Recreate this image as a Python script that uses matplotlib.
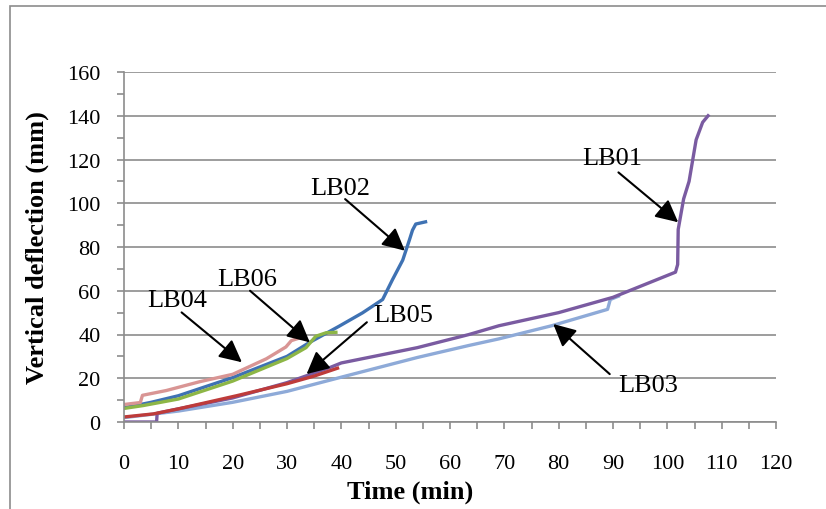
import matplotlib
matplotlib.use("Agg")
import matplotlib.pyplot as plt
from matplotlib.patches import Rectangle
from matplotlib.ticker import MultipleLocator

plt.rcParams['font.family'] = ['Liberation Serif', 'DejaVu Serif']

# deflection curves, time (min) vs vertical deflection (mm)
lb01_t = [0, 6, 6.1, 10, 20, 30, 38, 40, 54, 63.5, 69, 80, 90, 101.5, 101.9, 102.0, 103, 104, 105.3, 106.5, 107.5]
lb01_v = [0, 0, 4, 6, 11, 18, 25, 27, 34, 40, 44, 50, 57, 68.5, 72, 88, 102, 110, 129, 137, 140]

lb03_t = [0, 10, 20, 30, 40, 54, 63.5, 69, 78.7, 89, 89.5, 91]
lb03_v = [2, 5, 9, 14, 20.5, 29.5, 35, 38, 44, 51.5, 56, 57.5]

lb02_t = [0, 5, 10, 20, 30, 34.1, 39.6, 43.9, 47.6, 49.4, 51.3, 52.5, 53.1, 53.7, 55.5]
lb02_v = [6.5, 9, 12, 20.3, 30, 36.3, 43.8, 49.9, 56, 65, 74, 83, 87.7, 90.5, 91.5]

lb04_t = [0, 3, 3.4, 7.8, 13.9, 20, 26.2, 29.8, 30.8, 32.3]
lb04_v = [8, 8.9, 12.2, 14.4, 18.4, 21.8, 28.9, 34.3, 37.2, 38.4]

lb06_t = [0, 3.5, 10, 20, 30, 33.5, 35.3, 37.2, 39]
lb06_v = [6.2, 7.5, 10.5, 18.7, 29, 34, 39.2, 40.8, 41]

lb05_t = [0, 5.4, 10, 20.7, 30, 35, 39.3]
lb05_v = [2.3, 3.7, 6, 12, 17.5, 21, 24.6]

# label text position, arrow tail, arrow head (data coords)
labels = ['LB01', 'LB02', 'LB03', 'LB04', 'LB05', 'LB06']
label_xy = [(89.8, 120.7), (39.8, 107), (96.4, 16.9), (9.75, 55.8), (51.4, 48.9), (22.7, 65.4)]
arrow_tail = [(91.0, 114.1), (40.7, 101.9), (89.4, 21.9), (10.6, 50.1), (44.7, 45.6), (23.2, 60.0)]
arrow_head = [(102.0, 91.3), (51.7, 78.3), (79.0, 44.8), (21.7, 27.3), (33.6, 21.9), (34.2, 36.4)]

fig = plt.figure(figsize=(8.26, 5.10), dpi=100)
ax = fig.add_axes([124 / 826, 1 - 423 / 510, 652 / 826, 350 / 510])

# outer chart frame
fig.patches.append(Rectangle((9.5 / 826, -0.2), 1.2, 1.2 - 7 / 510, transform=fig.transFigure,
                             fill=False, edgecolor='#8c8c8c', lw=1.2))

ax.plot(lb03_t, lb03_v, color='#8eaad8', lw=2.4)
ax.plot(lb01_t, lb01_v, color='#7a5ba1', lw=2.4)
ax.plot(lb02_t, lb02_v, color='#3f72b3', lw=2.4)
ax.plot(lb04_t, lb04_v, color='#d99594', lw=2.4)
ax.plot(lb06_t, lb06_v, color='#8db646', lw=2.4)
ax.plot(lb05_t, lb05_v, color='#be3b3a', lw=2.4)

for name, txy, tail, head in zip(labels, label_xy, arrow_tail, arrow_head):
    ax.annotate('', xy=head, xytext=tail,
                arrowprops=dict(arrowstyle='-|>', color='black', lw=1.5,
                                mutation_scale=34, shrinkA=0, shrinkB=0))
    ax.text(txy[0], txy[1], name, ha='center', va='center', fontsize=19)

ax.set_xlim(0, 120)
ax.set_ylim(0, 160)
ax.xaxis.set_major_locator(MultipleLocator(10))
ax.xaxis.set_minor_locator(MultipleLocator(5))
ax.yaxis.set_major_locator(MultipleLocator(20))
ax.yaxis.set_minor_locator(MultipleLocator(10))
ax.grid(True, axis='y', which='major', color='#8c8c8c', lw=1.2)
ax.set_axisbelow(True)

for s in ['top', 'right']:
    ax.spines[s].set_visible(False)
for s in ['left', 'bottom']:
    ax.spines[s].set_color('#8c8c8c')
    ax.spines[s].set_linewidth(1.2)

ax.tick_params(axis='x', which='both', direction='out', length=5, color='#8c8c8c', width=1.2, pad=18, labelsize=16)
ax.tick_params(axis='y', which='both', direction='out', length=5, color='#8c8c8c', width=1.2, pad=12, labelsize=16)

fig.text(410 / 826, 1 - 492 / 510, 'Time (min)', ha='center', va='center', fontsize=19, fontweight='bold')
fig.text(37 / 826, 1 - 248 / 510, 'Vertical deflection (mm)', ha='center', va='center',
         rotation=90, fontsize=19, fontweight='bold')

fig.savefig('out.png', dpi=100)
